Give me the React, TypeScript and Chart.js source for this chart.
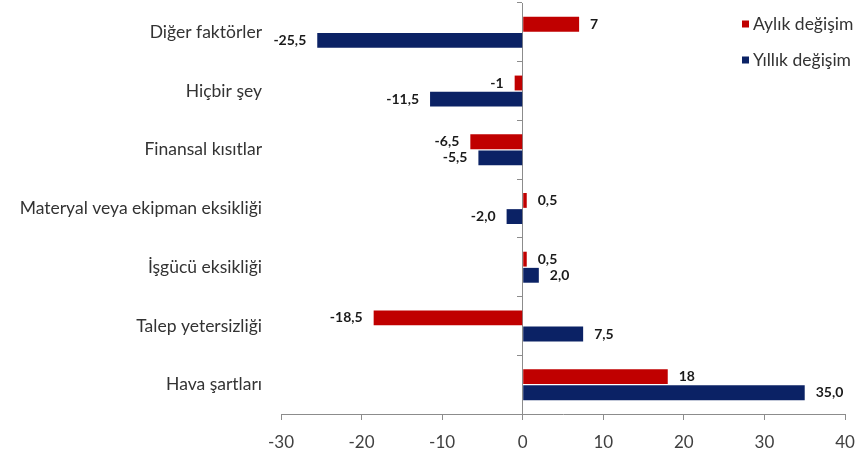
import React, { useEffect, useRef } from "react";
import { Chart, registerables } from "chart.js";

Chart.register(...registerables);

const categories = [
  "Diğer faktörler",
  "Hiçbir şey",
  "Finansal kısıtlar",
  "Materyal veya ekipman eksikliği",
  "İşgücü eksikliği",
  "Talep yetersizliği",
  "Hava şartları",
];
const aylikDegisim = [7, -1, -6.5, 0.5, 0.5, -18.5, 18];
const yillikDegisim = [-25.5, -11.5, -5.5, -2.0, 2.0, 7.5, 35.0];
const seriesNames = ["Aylık değişim", "Yıllık değişim"];
const xMin = -30;
const xMax = 40;
const xStep = 10;

const RED = "#C00000";
const NAVY = "#0B2265";
const FONT = "Lato, 'Open Sans', sans-serif";

const fmtAylik = (v: number) => String(v).replace(".", ",");
const fmtYillik = (v: number) => v.toFixed(1).replace(".", ",");

const labelPlugin = {
  id: "valueLabels",
  afterDatasetsDraw(chart: any) {
    const ctx = chart.ctx;
    ctx.save();
    ctx.font = `bold 14px ${FONT}`;
    ctx.fillStyle = "#1a1a1a";
    ctx.textBaseline = "middle";
    chart.data.datasets.forEach((ds: any, di: number) => {
      const meta = chart.getDatasetMeta(di);
      meta.data.forEach((el: any, i: number) => {
        const v = ds.data[i];
        const txt = di === 0 ? fmtAylik(v) : fmtYillik(v);
        if (v >= 0) {
          ctx.textAlign = "left";
          ctx.fillText(txt, el.x + 11, el.y);
        } else {
          ctx.textAlign = "right";
          ctx.fillText(txt, el.x - 11, el.y);
        }
      });
    });
    ctx.restore();
  },
};

const legendPlugin = {
  id: "customLegend",
  afterDraw(chart: any) {
    const ctx = chart.ctx;
    ctx.save();
    ctx.font = `17.5px ${FONT}`;
    ctx.textBaseline = "middle";
    ctx.textAlign = "left";
    const x0 = chart.width - 118;
    chart.data.datasets.forEach((ds: any, i: number) => {
      const y = 24 + i * 36;
      ctx.fillStyle = ds.backgroundColor;
      ctx.fillRect(x0, y - 3.5, 7, 7);
      ctx.fillStyle = "#333333";
      ctx.fillText(ds.label, x0 + 11, y);
    });
    ctx.restore();
  },
};

export default function App() {
  const ref = useRef<HTMLCanvasElement | null>(null);
  useEffect(() => {
    document.body.style.margin = "0";
    if (!ref.current) return;
    const chart = new Chart(ref.current, {
      type: "bar",
      data: {
        labels: categories,
        datasets: [
          {
            label: seriesNames[0],
            data: aylikDegisim,
            backgroundColor: RED,
            categoryPercentage: 0.55,
            barPercentage: 0.92,
          },
          {
            label: seriesNames[1],
            data: yillikDegisim,
            backgroundColor: NAVY,
            categoryPercentage: 0.55,
            barPercentage: 0.92,
          },
        ],
      },
      plugins: [labelPlugin, legendPlugin],
      options: {
        indexAxis: "y",
        animation: false,
        responsive: false,
        maintainAspectRatio: false,
        layout: { padding: { top: 3, right: 15, bottom: 0, left: 0 } },
        plugins: {
          legend: { display: false },
          tooltip: { enabled: false },
        },
        scales: {
          x: {
            type: "linear",
            min: xMin,
            max: xMax,
            ticks: {
              stepSize: xStep,
              color: "#404040",
              font: { family: FONT, size: 17 },
              padding: 12,
            },
            grid: {
              drawOnChartArea: false,
              drawTicks: true,
              tickLength: 6,
              color: "#8c8c8c",
            },
            border: { display: true, color: "#8c8c8c" },
            afterFit: (s: any) => {
              s.height = 48;
              s.paddingLeft = 0;
              s.paddingRight = 0;
            },
          },
          y: {
            type: "category",
            position: "left",
            grid: { display: false, drawTicks: false },
            border: { display: false },
            ticks: {
              color: "#333333",
              font: { family: FONT, size: 17.5 },
              padding: 19,
            },
            afterFit: (s: any) => {
              s.width = 281;
              s.paddingTop = 0;
              s.paddingBottom = 0;
            },
          },
          y2: {
            type: "category",
            axis: "y",
            position: { x: 0 },
            offset: true,
            grid: {
              offset: true,
              drawOnChartArea: false,
              drawTicks: true,
              tickLength: 5,
              color: "#8c8c8c",
            },
            border: { display: true, color: "#8c8c8c" },
            ticks: { display: false },
            afterFit: (s: any) => {
              s.paddingTop = 0;
              s.paddingBottom = 0;
            },
          },
        },
      } as any,
    });
    return () => chart.destroy();
  }, []);
  return (
    <div style={{ width: 860, height: 462, background: "#fff" }}>
      <canvas ref={ref} width={860} height={462} />
    </div>
  );
}
